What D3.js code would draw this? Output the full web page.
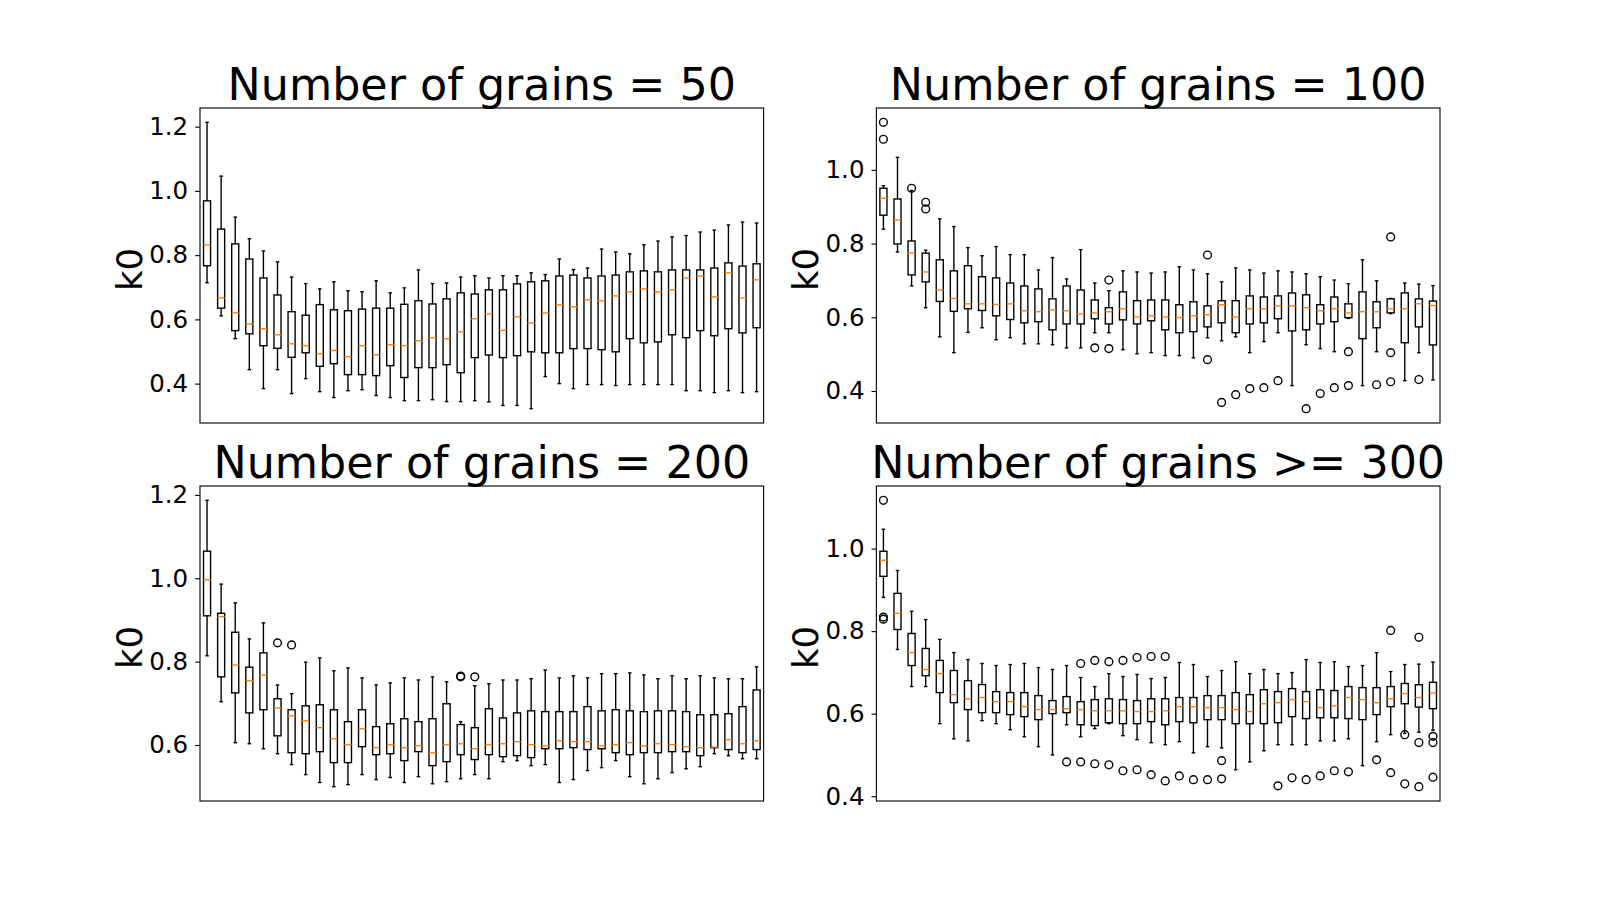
<!DOCTYPE html>
<html>
<head>
<meta charset="utf-8">
<script src="https://cdn.jsdelivr.net/npm/d3@7"></script>
<style>
  body { margin: 0; background: #fff; }
  svg { display: block; }
  text { font-family: "DejaVu Sans", sans-serif; fill: #000; }
</style>
</head>
<body>
<svg id="chart" width="1600" height="900"></svg>
<script>
// titles + tick labels
const titles = ["Number of grains = 50", "Number of grains = 100", "Number of grains = 200", "Number of grains >= 300"];
const yLabel = "k0";
const ticks50 = [0.4, 0.6, 0.8, 1.0, 1.2];
const ticks100 = [0.4, 0.6, 0.8, 1.0];
const ticks200 = [0.6, 0.8, 1.0, 1.2];
const ticks300 = [0.4, 0.6, 0.8, 1.0];

// ---- grains = 50 (40 boxes: lower whisker, q1, median, q3, upper whisker)
const lo50 = [.714,.611,.540,.4435,.3845,.4435,.369,.4155,.375,.3566,.378,.381,.363,.3566,.347,.347,.350,.344,.344,.347,
              .343,.332,.332,.322,.422,.400,.3845,.397,.397,.394,.397,.397,.397,.397,.378,.378,.372,.378,.372,.375];
const q1_50 = [.767,.635,.565,.555,.518,.510,.482,.496,.454,.462,.428,.428,.425,.456,.419,.4497,.4497,.459,.434,.481,
               .489,.481,.487,.499,.496,.496,.509,.509,.5056,.499,.540,.527,.530,.552,.543,.565,.549,.571,.558,.574];
const med50 = [.832,.667,.6205,.586,.571,.552,.524,.518,.493,.5035,.484,.518,.490,.521,.518,.5335,.543,.5397,.5615,.602,
               .617,.566,.608,.589,.620,.645,.639,.661,.658,.673,.686,.695,.686,.692,.729,.735,.670,.745,.667,.723];
const q3_50 = [.969,.881,.835,.788,.729,.676,.624,.613,.646,.630,.627,.632,.635,.635,.647,.658,.648,.664,.6825,.679,
               .692,.692,.7105,.717,.720,.735,.738,.729,.735,.738,.748,.751,.748,.754,.754,.754,.760,.776,.766,.773];
const hi50 = [1.2135,1.046,.9185,.851,.813,.779,.732,.7115,.695,.717,.689,.686,.720,.6825,.698,.754,.7115,.7136,.732,.736,
              .729,.736,.736,.745,.7395,.788,.755,.760,.819,.810,.804,.832,.844,.857,.861,.872,.878,.894,.903,.900];
const fliers50 = [];

// ---- grains = 100
const lo100 = [.839,.777,.685,.626,.547,.504,.559,.5715,.539,.5445,.528,.528,.5255,.517,.517,.558,.558,.512,.501,.504,
               .496,.496,.490,.5445,.536,.547,.504,.534,.558,.4146,.5255,.515,.5066,.597,.4146,.5066,.610,.428,.504,.430];
const q1_100 = [.877,.799,.715,.696,.643,.616,.623,.6185,.604,.594,.585,.588,.566,.582,.582,.596,.582,.593,.582,.5905,
                .566,.558,.561,.574,.585,.558,.582,.585,.596,.563,.566,.582,.588,.599,.542,.5715,.612,.531,.574,.525];
const med100 = [.923,.864,.7745,.723,.674,.651,.6365,.6365,.635,.6365,.6176,.615,.620,.6176,.609,.612,.615,.623,.601,.604,
                .601,.599,.604,.607,.634,.601,.623,.623,.631,.631,.626,.6176,.623,.612,.615,.615,.623,.623,.6365,.632];
const q3_100 = [.950,.921,.807,.774,.756,.726,.740,.710,.707,.693,.685,.677,.650,.685,.674,.647,.626,.669,.645,.647,
                .647,.634,.642,.631,.645,.645,.658,.655,.658,.666,.661,.634,.655,.6365,.669,.642,.650,.666,.650,.644];
const hi100 = [.957,1.034,.944,.782,.867,.846,.789,.767,.792,.770,.770,.7285,.762,.704,.7835,.693,.672,.726,.723,.720,
               .723,.737,.7285,.718,.696,.734,.7285,.720,.726,.723,.718,.710,.701,.691,.756,.699,.651,.693,.690,.686];
const fliers100 = [[1,1.129],[1,1.083],[3,.950],[4,.912],[4,.894],[16,.517],[17,.701],[17,.515],[24,.769],[24,.485],
                   [25,.369],[26,.390],[27,.4065],[28,.409],[29,.428],[31,.352],[32,.393],[33,.409],[34,.5066],[34,.4146],
                   [36,.417],[37,.818],[37,.504],[37,.425],[39,.431]];

// ---- grains = 200
const lo200 = [.814,.7037,.6056,.603,.591,.579,.553,.529,.510,.500,.505,.529,.517,.522,.510,.524,.507,.512,.519,.529,
               .519,.560,.5625,.5505,.553,.510,.517,.5386,.5457,.5625,.524,.507,.519,.534,.543,.548,.579,.5744,.567,.567];
const q1_200 = [.910,.7636,.725,.677,.6846,.622,.5816,.579,.584,.5577,.5577,.596,.5768,.579,.5625,.584,.5505,.560,.5768,.565,
                .5768,.572,.5744,.5697,.591,.591,.5936,.589,.591,.5816,.5768,.5816,.5816,.584,.584,.5744,.5936,.589,.5816,.589];
const med200 = [.9965,.908,.792,.754,.768,.689,.670,.658,.6415,.615,.6008,.639,.5936,.6008,.5936,.598,.5816,.6008,.603,.591,
                .6008,.603,.608,.6008,.598,.610,.608,.608,.598,.6008,.6056,.598,.603,.6008,.596,.5936,.595,.6127,.603,.610];
const q3_200 = [1.065,.916,.8705,.7867,.821,.711,.6846,.694,.6965,.6846,.656,.6846,.644,.651,.663,.656,.663,.699,.649,.6415,
                .687,.665,.677,.682,.680,.680,.680,.692,.682,.6846,.682,.680,.682,.682,.680,.6726,.6726,.675,.692,.732];
const hi200 = [1.187,.986,.941,.8545,.893,.744,.723,.7987,.809,.778,.785,.761,.744,.749,.761,.756,.7635,.7516,.656,.742,
               .747,.756,.756,.759,.780,.761,.766,.761,.771,.771,.773,.768,.759,.766,.759,.766,.761,.759,.759,.7875];
const fliers200 = [[6,.845],[7,.840],[19,.7635],[19,.7655],[20,.7635]];

// ---- grains >= 300
const lo300 = [.8818,.7555,.6656,.6656,.5757,.539,.534,.583,.5757,.561,.544,.520,.500,.573,.544,.5636,.5757,.5466,.537,.5296,
               .5247,.532,.505,.520,.517,.464,.483,.510,.5247,.5247,.5247,.534,.534,.539,.474,.532,.549,.552,.555,.560];
const q1_300 = [.9328,.804,.7166,.692,.651,.6267,.6097,.6024,.6024,.5976,.5927,.5854,.600,.6024,.573,.571,.578,.5757,.5757,.5806,
                .573,.5806,.578,.5854,.5854,.5757,.5757,.5757,.578,.5927,.588,.590,.590,.588,.5854,.5976,.617,.624,.616,.612];
const med300 = [.9717,.843,.748,.707,.697,.646,.636,.639,.629,.629,.617,.6097,.6097,.612,.6097,.607,.607,.607,.605,.605,
                .607,.617,.617,.6146,.6146,.6097,.605,.624,.6267,.634,.629,.6146,.619,.639,.634,.6267,.636,.6486,.639,.650];
const q3_300 = [.9935,.8915,.7943,.758,.729,.7045,.680,.6705,.6534,.651,.651,.6437,.6316,.6413,.629,.634,.636,.634,.6316,.636,
                .636,.639,.639,.6437,.6437,.651,.646,.658,.6534,.6607,.6534,.658,.656,.6656,.663,.663,.6656,.673,.670,.676];
const hi300 = [1.047,.947,.848,.828,.780,.748,.731,.7215,.7166,.719,.7215,.7117,.707,.7166,.6875,.6656,.697,.690,.695,.685,
               .6875,.724,.719,.690,.7045,.726,.697,.707,.697,.6996,.731,.724,.726,.714,.7166,.748,.702,.719,.720,.725];
const fliers300 = [[1,1.117],[1,.834],[1,.829],[14,.483],[15,.7215],[15,.483],[16,.729],[16,.4786],[17,.726],[17,.476],
                   [18,.729],[18,.4616],[19,.736],[19,.464],[20,.7385],[20,.452],[21,.7385],[21,.437],[22,.449],[23,.440],
                   [24,.440],[25,.486],[25,.442],[29,.425],[30,.4445],[31,.440],[32,.449],[33,.4616],[34,.459],[36,.488],
                   [37,.8016],[37,.457],[38,.549],[38,.430],[39,.785],[39,.530],[39,.423],[40,.545],[40,.530],[40,.446]];

// matplotlib-ish layout (16x9 in @100dpi, default subplot params)
const W = 1600, H = 900;
const axW = 1240 / 2.2, axH = 693 / 2.2;
const cols = [200, 200 + axW * 1.2];
const rows = [108, 108 + axH * 1.2];
const LW = 1.39;

const panels = [
  { title: titles[0], lo: lo50, q1: q1_50, med: med50, q3: q3_50, hi: hi50, fliers: fliers50, ticks: ticks50, x0: cols[0], y0: rows[0] },
  { title: titles[1], lo: lo100, q1: q1_100, med: med100, q3: q3_100, hi: hi100, fliers: fliers100, ticks: ticks100, x0: cols[1], y0: rows[0] },
  { title: titles[2], lo: lo200, q1: q1_200, med: med200, q3: q3_200, hi: hi200, fliers: fliers200, ticks: ticks200, x0: cols[0], y0: rows[1] },
  { title: titles[3], lo: lo300, q1: q1_300, med: med300, q3: q3_300, hi: hi300, fliers: fliers300, ticks: ticks300, x0: cols[1], y0: rows[1] },
];

const svg = d3.select("#chart");

function drawPanel(p) {
  const n = p.med.length;
  const g = svg.append("g");

  // x = box position 1..n, y = autoscaled with 5% margin like matplotlib
  const x = d3.scaleLinear().domain([0.5, n + 0.5]).range([p.x0, p.x0 + axW]);
  const vals = p.lo.concat(p.hi, p.fliers.map(f => f[1]));
  const [mn, mx] = d3.extent(vals);
  const pad = (mx - mn) * 0.05;
  const y = d3.scaleLinear().domain([mn - pad, mx + pad]).range([p.y0 + axH, p.y0]);

  const idx = d3.range(n);
  const hw = 0.25, cw = 0.125;

  // whiskers
  g.selectAll("line.wlo").data(idx).join("line")
    .attr("x1", i => x(i + 1)).attr("x2", i => x(i + 1))
    .attr("y1", i => y(p.q1[i])).attr("y2", i => y(p.lo[i]))
    .attr("stroke", "#000").attr("stroke-width", LW);
  g.selectAll("line.whi").data(idx).join("line")
    .attr("x1", i => x(i + 1)).attr("x2", i => x(i + 1))
    .attr("y1", i => y(p.q3[i])).attr("y2", i => y(p.hi[i]))
    .attr("stroke", "#000").attr("stroke-width", LW);

  // caps
  g.selectAll("line.clo").data(idx).join("line")
    .attr("x1", i => x(i + 1 - cw)).attr("x2", i => x(i + 1 + cw))
    .attr("y1", i => y(p.lo[i])).attr("y2", i => y(p.lo[i]))
    .attr("stroke", "#000").attr("stroke-width", LW);
  g.selectAll("line.chi").data(idx).join("line")
    .attr("x1", i => x(i + 1 - cw)).attr("x2", i => x(i + 1 + cw))
    .attr("y1", i => y(p.hi[i])).attr("y2", i => y(p.hi[i]))
    .attr("stroke", "#000").attr("stroke-width", LW);

  // boxes
  g.selectAll("rect.box").data(idx).join("rect")
    .attr("x", i => x(i + 1 - hw))
    .attr("width", i => x(i + 1 + hw) - x(i + 1 - hw))
    .attr("y", i => y(p.q3[i]))
    .attr("height", i => y(p.q1[i]) - y(p.q3[i]))
    .attr("fill", "#fff").attr("stroke", "#000").attr("stroke-width", LW);

  // medians
  g.selectAll("line.med").data(idx).join("line")
    .attr("x1", i => x(i + 1 - hw)).attr("x2", i => x(i + 1 + hw))
    .attr("y1", i => y(p.med[i])).attr("y2", i => y(p.med[i]))
    .attr("stroke", "#ff7f0e").attr("stroke-width", LW);

  // fliers
  g.selectAll("circle.fl").data(p.fliers).join("circle")
    .attr("cx", d => x(d[0])).attr("cy", d => y(d[1])).attr("r", 3.9)
    .attr("fill", "none").attr("stroke", "#000").attr("stroke-width", LW);

  // frame
  g.append("rect")
    .attr("x", p.x0).attr("y", p.y0).attr("width", axW).attr("height", axH)
    .attr("fill", "none").attr("stroke", "#000").attr("stroke-width", 1.11);

  // y axis
  const ax = g.append("g").attr("transform", `translate(${p.x0},0)`)
    .call(d3.axisLeft(y).tickValues(p.ticks).tickFormat(d3.format(".1f")).tickSize(4.86).tickPadding(7));
  ax.select(".domain").remove();
  ax.selectAll(".tick line").attr("stroke", "#000").attr("stroke-width", 1.11);
  ax.selectAll(".tick text").attr("font-size", "24.5px").attr("font-family", "DejaVu Sans").attr("fill", "#000");

  // title + ylabel
  g.append("text")
    .attr("x", p.x0 + axW / 2).attr("y", p.y0 - 8.3)
    .attr("text-anchor", "middle").attr("font-size", "44.4px")
    .text(p.title);
  g.append("text")
    .attr("transform", `translate(${p.x0 - 58},${p.y0 + axH / 2 + 4}) rotate(-90)`)
    .attr("text-anchor", "middle").attr("font-size", "35.5px")
    .text(yLabel);
}

panels.forEach(drawPanel);
</script>
</body>
</html>
